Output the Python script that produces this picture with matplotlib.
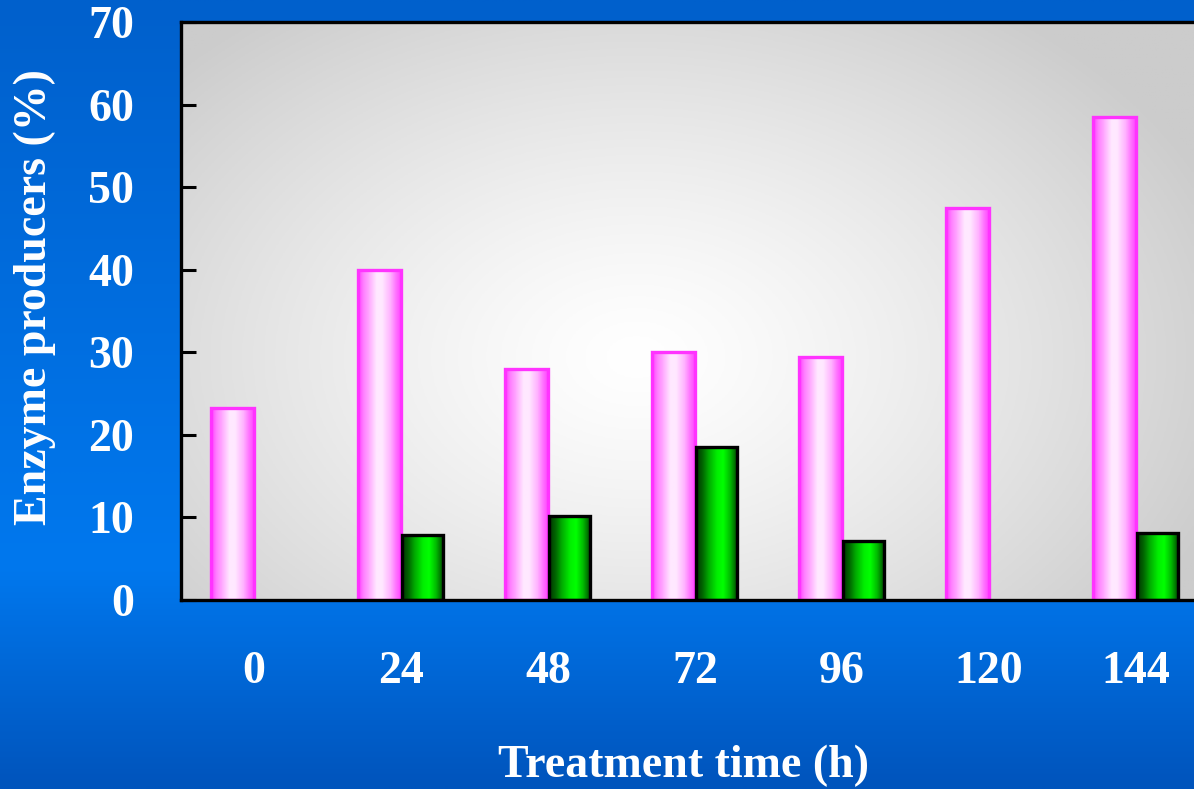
import numpy as np
import matplotlib
matplotlib.use("Agg")
import matplotlib.pyplot as plt
from matplotlib.colors import LinearSegmentedColormap

hours = ["0", "24", "48", "72", "96", "120", "144"]
producers_a = [23.3, 40.0, 28.0, 30.0, 29.4, 47.5, 58.5]   # pink series
producers_b = [0, 7.9, 10.2, 18.5, 7.1, 0, 8.1]            # green series

plt.rcParams["font.family"] = ["Liberation Serif", "DejaVu Serif"]
plt.rcParams["font.weight"] = "bold"

fig = plt.figure(figsize=(11.94, 7.89), dpi=100)

# blue slide background, lighter band near the axis line
bg = fig.add_axes([0, 0, 1, 1], zorder=0)
bg.set_axis_off()
yy = np.linspace(0, 1, 400)[:, None]
blue = LinearSegmentedColormap.from_list(
    "blue", [(0.0, "#0060cc"), (0.72, "#0078ee"), (1.0, "#0054bc")])
bg.imshow(blue(yy * np.ones((1, 4)))[:, :, :3], aspect="auto",
          extent=[0, 1, 1, 0])
bg.set_xlim(0, 1)
bg.set_ylim(1, 0)

left, right = 181 / 1194, 1.0
bottom, top = (789 - 600) / 789, (789 - 22) / 789
ax = fig.add_axes([left, bottom, right - left, top - bottom], zorder=1)

x = np.arange(len(hours))
w = 0.295
ax.set_xlim(-0.497, 6.395)
ax.set_ylim(0, 70)

# gray plot area with a soft white glow in the middle
gx, gy = np.meshgrid(np.linspace(0, 1, 300), np.linspace(0, 1, 200))
r = np.sqrt(((gx - 0.45) / 0.62) ** 2 + ((gy - 0.42) / 0.75) ** 2)
shade = np.clip(1.0 - 0.2 * np.clip(r, 0, 1) ** 1.3, 0.8, 1.0)
ax.imshow(np.dstack([shade] * 3), extent=[-0.497, 6.395, 70, 0],
          aspect="auto", zorder=0)

pink_cmap = LinearSegmentedColormap.from_list(
    "pink", [(0.0, "#ff40ff"), (0.12, "#ff80ff"), (0.25, "#ffaaff"),
             (0.42, "#ffe8ff"), (0.55, "#ffe8ff"), (0.75, "#ffb0ff"),
             (0.88, "#ff70ff"), (1.0, "#ff40ff")])
green_cmap = LinearSegmentedColormap.from_list(
    "green", [(0.0, "#003300"), (0.15, "#006600"), (0.3, "#00aa00"),
              (0.5, "#00ee00"), (0.65, "#00ff00"), (0.82, "#00bb00"),
              (1.0, "#004400")])
ramp = np.linspace(0, 1, 64)[None, :]

bars_a = ax.bar(x - w / 2, producers_a, w, facecolor="none",
                edgecolor="#ff33ff", linewidth=2.4, zorder=3)
bars_b = ax.bar(x + w / 2, producers_b, w * 0.95, facecolor="none",
                edgecolor="black", linewidth=2.4, zorder=3)

for bars, cmap in ((bars_a, pink_cmap), (bars_b, green_cmap)):
    for p in bars:
        h = p.get_height()
        if h <= 0:
            p.set_visible(False)
            continue
        x0 = p.get_x()
        ax.imshow(ramp, cmap=cmap, aspect="auto", zorder=2,
                  extent=[x0, x0 + p.get_width(), 0, h])

ax.set_xlim(-0.497, 6.395)
ax.set_ylim(0, 70)

for s in ("left", "top", "bottom"):
    ax.spines[s].set_linewidth(2.4)
    ax.spines[s].set_zorder(5)
ax.spines["right"].set_visible(False)

ax.set_yticks(range(0, 71, 10))
ax.tick_params(axis="y", direction="in", length=11, width=2.2, pad=34,
               labelsize=33, labelcolor="white")
ax.set_xticks(x)
ax.set_xticklabels(hours)
ax.tick_params(axis="x", length=0, pad=37, labelsize=33, labelcolor="white")

fig.text(35 / 1194, 1 - 297 / 789, "Enzyme producers (%)", fontsize=33,
         color="white", ha="center", va="center", rotation=90)
fig.text(684 / 1194, 1 - 766 / 789, "Treatment time (h)", fontsize=33,
         color="white", ha="center", va="center")

fig.savefig("out.png", dpi=100)
